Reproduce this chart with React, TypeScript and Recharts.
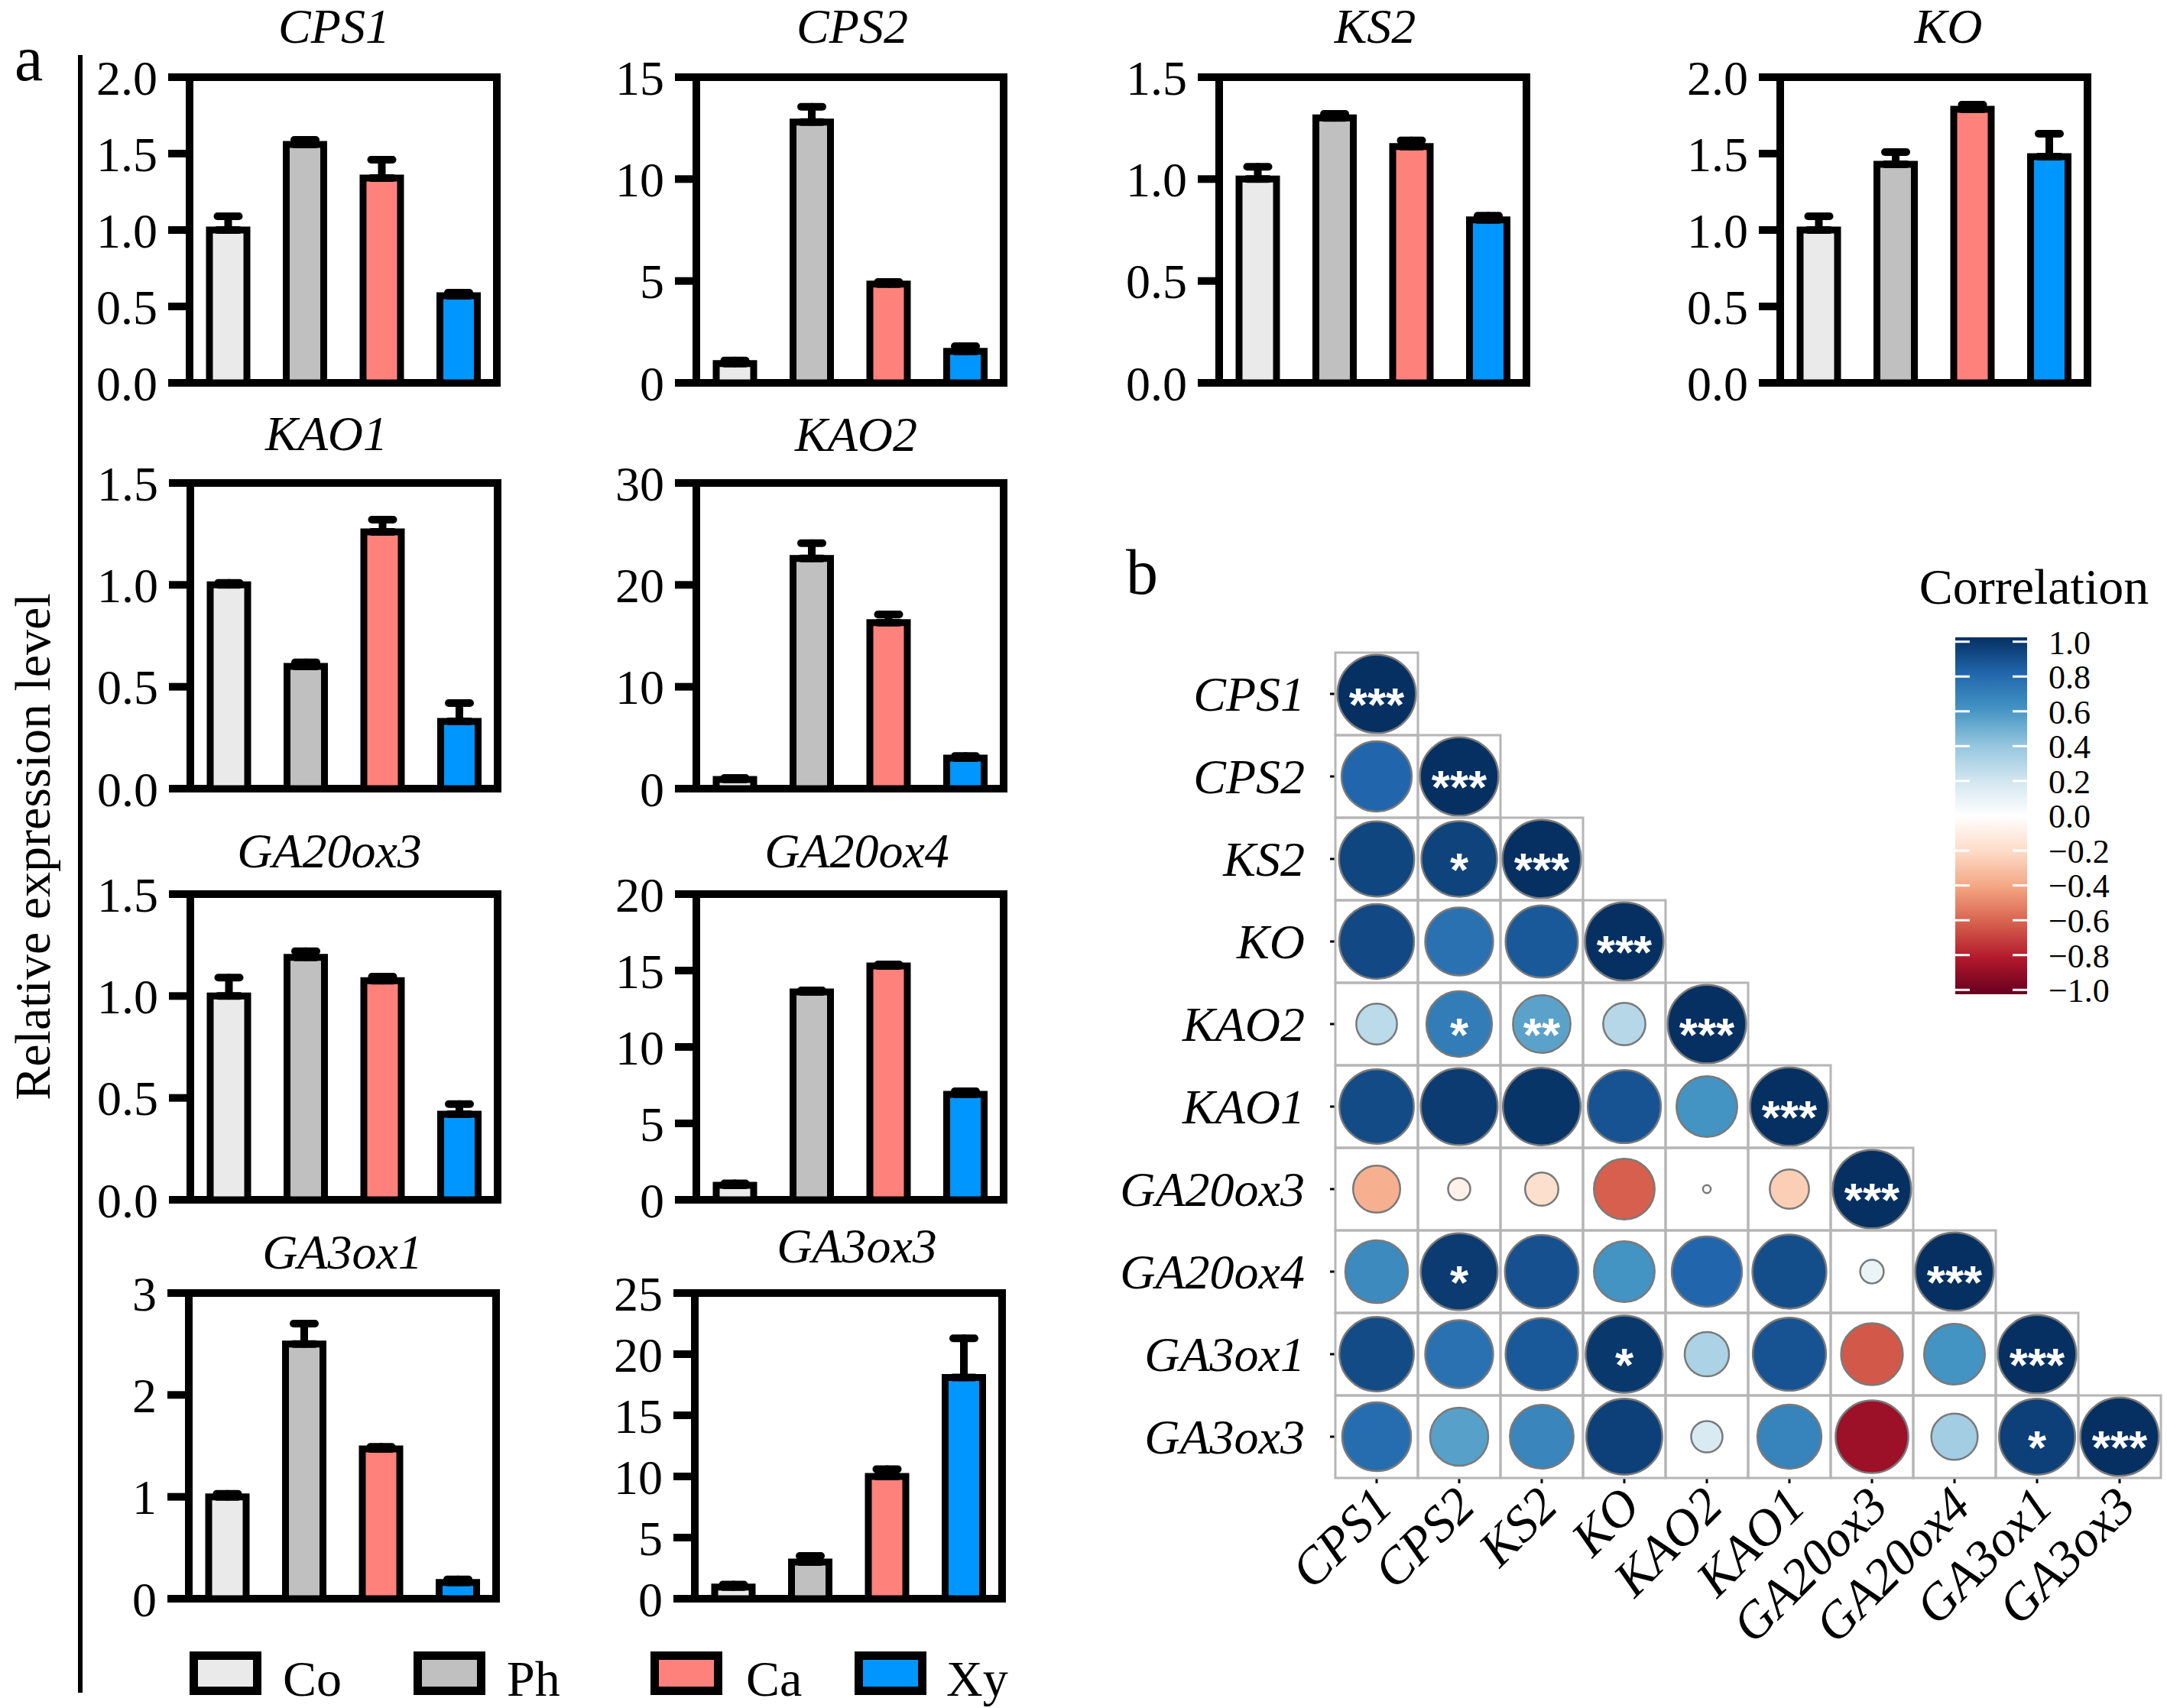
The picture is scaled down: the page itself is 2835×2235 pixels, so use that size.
import React from 'react';
import {
  BarChart, Bar, XAxis, YAxis, Cell, ErrorBar, ReferenceArea,
  ScatterChart, Scatter, ComposedChart, Line,
} from 'recharts';

const FONT = '"Liberation Serif", "Times New Roman", serif';

// ---------- panel a : data ----------
const sampleNames = ['Co', 'Ph', 'Ca', 'Xy'];
const sampleColors = ['#EAEAEA', '#C0C0C0', '#FF817C', '#0096FF'];

const cps1Mean = [1.0, 1.56, 1.34, 0.57];
const cps1Err = [0.09, 0.03, 0.12, 0.02];
const cps1Ticks = [0, 0.5, 1.0, 1.5, 2.0];

const cps2Mean = [0.95, 12.8, 4.85, 1.55];
const cps2Err = [0.15, 0.75, 0.1, 0.25];
const cps2Ticks = [0, 5, 10, 15];

const ks2Mean = [1.0, 1.3, 1.16, 0.8];
const ks2Err = [0.06, 0.02, 0.03, 0.02];
const ks2Ticks = [0, 0.5, 1.0, 1.5];

const koMean = [1.0, 1.43, 1.79, 1.48];
const koErr = [0.09, 0.08, 0.03, 0.15];
const koTicks = [0, 0.5, 1.0, 1.5, 2.0];

const kao1Mean = [1.0, 0.6, 1.26, 0.33];
const kao1Err = [0.01, 0.02, 0.06, 0.09];
const kao1Ticks = [0, 0.5, 1.0, 1.5];

const kao2Mean = [0.9, 22.6, 16.3, 3.0];
const kao2Err = [0.15, 1.5, 0.8, 0.2];
const kao2Ticks = [0, 10, 20, 30];

const ga20ox3Mean = [1.0, 1.19, 1.075, 0.42];
const ga20ox3Err = [0.09, 0.03, 0.02, 0.05];
const ga20ox3Ticks = [0, 0.5, 1.0, 1.5];

const ga20ox4Mean = [0.95, 13.6, 15.3, 6.9];
const ga20ox4Err = [0.12, 0.1, 0.1, 0.2];
const ga20ox4Ticks = [0, 5, 10, 15, 20];

const ga3ox1Mean = [1.0, 2.5, 1.47, 0.16];
const ga3ox1Err = [0.03, 0.2, 0.02, 0.03];
const ga3ox1Ticks = [0, 1, 2, 3];

const ga3ox3Mean = [0.95, 3.0, 10.0, 18.1];
const ga3ox3Err = [0.2, 0.5, 0.6, 3.2];
const ga3ox3Ticks = [0, 5, 10, 15, 20, 25];

const panels = [
  { gene: 'CPS1', mean: cps1Mean, err: cps1Err, ticks: cps1Ticks, digits: 1 },
  { gene: 'CPS2', mean: cps2Mean, err: cps2Err, ticks: cps2Ticks, digits: 0 },
  { gene: 'KS2', mean: ks2Mean, err: ks2Err, ticks: ks2Ticks, digits: 1 },
  { gene: 'KO', mean: koMean, err: koErr, ticks: koTicks, digits: 1 },
  { gene: 'KAO1', mean: kao1Mean, err: kao1Err, ticks: kao1Ticks, digits: 1 },
  { gene: 'KAO2', mean: kao2Mean, err: kao2Err, ticks: kao2Ticks, digits: 0 },
  { gene: 'GA20ox3', mean: ga20ox3Mean, err: ga20ox3Err, ticks: ga20ox3Ticks, digits: 1 },
  { gene: 'GA20ox4', mean: ga20ox4Mean, err: ga20ox4Err, ticks: ga20ox4Ticks, digits: 0 },
  { gene: 'GA3ox1', mean: ga3ox1Mean, err: ga3ox1Err, ticks: ga3ox1Ticks, digits: 0 },
  { gene: 'GA3ox3', mean: ga3ox3Mean, err: ga3ox3Err, ticks: ga3ox3Ticks, digits: 0 },
];

// layout of each small panel: plot-area top-left, title centre / baseline
const panelLayout = [
  { x: 248, y: 101, tx: 437, ty: 56 },
  { x: 911, y: 101, tx: 1115, ty: 56 },
  { x: 1595, y: 101, tx: 1799, ty: 56 },
  { x: 2329, y: 101, tx: 2549, ty: 56 },
  { x: 249, y: 632, tx: 427, ty: 589 },
  { x: 911, y: 632, tx: 1120, ty: 590 },
  { x: 249, y: 1170, tx: 431, ty: 1135 },
  { x: 911, y: 1170, tx: 1121, ty: 1135 },
  { x: 247, y: 1692, tx: 448, ty: 1660 },
  { x: 909, y: 1692, tx: 1121, ty: 1652 },
];

// ---------- panel b : data ----------
const corrGenes = ['CPS1', 'CPS2', 'KS2', 'KO', 'KAO2', 'KAO1', 'GA20ox3', 'GA20ox4', 'GA3ox1', 'GA3ox3'];
const corrLower = [
  [1],
  [0.8, 1],
  [0.92, 0.93, 1],
  [0.91, 0.75, 0.85, 1],
  [0.27, 0.7, 0.54, 0.29, 1],
  [0.9, 0.96, 0.98, 0.87, 0.6, 1],
  [-0.36, -0.08, -0.18, -0.6, -0.01, -0.25, 1],
  [0.64, 0.96, 0.88, 0.6, 0.8, 0.89, 0.09, 1],
  [0.9, 0.75, 0.85, 0.97, 0.32, 0.87, -0.62, 0.6, 1],
  [0.77, 0.55, 0.66, 0.94, 0.16, 0.67, -0.86, 0.35, 0.94, 1],
];
const corrSig = [
  ['***'],
  ['', '***'],
  ['', '*', '***'],
  ['', '', '', '***'],
  ['', '*', '**', '', '***'],
  ['', '', '', '', '', '***'],
  ['', '', '', '', '', '', '***'],
  ['', '*', '', '', '', '', '', '***'],
  ['', '', '', '*', '', '', '', '', '***'],
  ['', '', '', '', '', '', '', '', '*', '***'],
];
const corrIdx = [0, 1, 2, 3, 4, 5, 6, 7, 8, 9];
const cbTicks = [-1, -0.8, -0.6, -0.4, -0.2, 0, 0.2, 0.4, 0.6, 0.8, 1];
const RDBU = ['#67001F', '#B2182B', '#D6604D', '#F4A582', '#FDDBC7', '#FFFFFF', '#D1E5F0', '#92C5DE', '#4393C3', '#2166AC', '#053061'];

function hexToRgb(h: string) {
  return [parseInt(h.slice(1, 3), 16), parseInt(h.slice(3, 5), 16), parseInt(h.slice(5, 7), 16)];
}
function corrColor(r: number) {
  const t = Math.max(0, Math.min(10, (r + 1) * 5));
  const i = Math.min(9, Math.floor(t));
  const f = t - i;
  const a = hexToRgb(RDBU[i]);
  const b = hexToRgb(RDBU[i + 1]);
  const c = a.map((v, k) => Math.round(v + (b[k] - v) * f));
  return `rgb(${c[0]},${c[1]},${c[2]})`;
}

// ---------- geometry ----------
const PW = 402;
const PH = 400;
const LM = 170;
const TM = 45;
const RM = 20;
const BM = 45;

function BarPanel({ p, lay }: any) {
  const data = sampleNames.map((s, i) => ({ name: s, value: p.mean[i], err: [0, p.err[i]] }));
  const max = p.ticks[p.ticks.length - 1];
  return (
    <div style={{ position: 'absolute', left: lay.x - LM, top: lay.y - TM }}>
      <BarChart
        width={PW + LM + RM}
        height={PH + TM + BM}
        data={data}
        margin={{ top: TM, right: RM, bottom: BM, left: 0 }}
      >
        <XAxis dataKey="name" hide />
        <YAxis
          type="number"
          width={LM}
          domain={[0, max]}
          ticks={p.ticks}
          interval={0}
          allowDataOverflow
          axisLine={false}
          tickSize={28}
          tickMargin={14}
          tickLine={{ stroke: '#000', strokeWidth: 10 }}
          tick={{ fill: '#000', fontSize: 64, fontFamily: FONT }}
          tickFormatter={(v: number) => v.toFixed(p.digits)}
        />
        <ReferenceArea y1={0} y2={max} fill="none" stroke="#000" strokeWidth={10} ifOverflow="visible" />
        <Bar dataKey="value" barSize={49} stroke="#000" strokeWidth={9} isAnimationActive={false}>
          {data.map((d, i) => (
            <Cell key={d.name} fill={sampleColors[i]} />
          ))}
          <ErrorBar
            dataKey="err"
            direction="y"
            width={14}
            stroke="#000"
            strokeWidth={10}
            strokeLinecap="round"
            isAnimationActive={false}
          />
        </Bar>
      </BarChart>
    </div>
  );
}

// correlation chart geometry
const CL = 1380;
const CT = 820;
const CW = 1455;
const CH = 1415;
const CELL = 108;
const CORR_LEFT = 367;
const CORR_TOP = 34;
const CORR_XH = CH - CORR_TOP - CELL * 10;
const CORR_RIGHT = CW - CORR_LEFT - CELL * 10;

const corrCells: any[] = [];
corrLower.forEach((row, i) => {
  row.forEach((r, j) => {
    corrCells.push({ x: j, y: i, r, sig: corrSig[i][j] });
  });
});

function CorrShape(props: any) {
  const { cx, cy, payload } = props;
  const rad = 0.475 * CELL * Math.sqrt(Math.abs(payload.r));
  return (
    <g>
      <rect x={cx - CELL / 2} y={cy - CELL / 2} width={CELL} height={CELL} fill="none" stroke="#b5b5b5" strokeWidth={3} />
      <circle cx={cx} cy={cy} r={Math.max(rad, 2.5)} fill={corrColor(payload.r)} stroke="#7a7a7a" strokeWidth={2.5} />
      {payload.sig ? (
        <text
          x={cx}
          y={cy + 35}
          textAnchor="middle"
          fill="#fff"
          fontSize={62}
          fontWeight="bold"
          fontFamily='"Liberation Sans", Arial, sans-serif'
        >
          {payload.sig}
        </text>
      ) : null}
    </g>
  );
}

function RowTick(props: any) {
  const { x, y, payload } = props;
  return (
    <text x={x} y={y} textAnchor="end" dominantBaseline="central" fontSize={64} fontStyle="italic" fontFamily={FONT} fill="#000">
      {corrGenes[payload.value]}
    </text>
  );
}

function ColTick(props: any) {
  const { x, y, payload } = props;
  const ax = x + 24;
  const ay = y;
  return (
    <text
      x={ax}
      y={ay}
      transform={`rotate(-45, ${ax}, ${ay})`}
      textAnchor="end"
      fontSize={67}
      fontStyle="italic"
      fontFamily={FONT}
      fill="#000"
    >
      {corrGenes[payload.value]}
    </text>
  );
}

// colour bar geometry
const BL = 2540;
const BT = 790;
const BW = 295;
const BH = 560;
const B_LEFT = 18;
const B_W = 94;
const B_TOP = 44;
const B_H = 467;
const B_LABEL_X = 140;

function CbTick(props: any) {
  const { y, payload } = props;
  const v = payload.value;
  const label = v === 0 ? '0.0' : v < 0 ? '\u2212' + Math.abs(v).toFixed(1) : v.toFixed(1);
  return (
    <g>
      <line x1={B_LEFT} x2={B_LEFT + 19} y1={y} y2={y} stroke="#fff" strokeWidth={3} />
      <line x1={B_LEFT + B_W - 19} x2={B_LEFT + B_W} y1={y} y2={y} stroke="#fff" strokeWidth={3} />
      <text x={B_LABEL_X} y={y} dy="0.36em" textAnchor="start" fontSize={44} fontFamily={FONT} fill="#000">
        {label}
      </text>
    </g>
  );
}

const legendLayout = [
  { bx: 248, tx: 370 },
  { bx: 541, tx: 663 },
  { bx: 851, tx: 976 },
  { bx: 1118, tx: 1238 },
];

export default function App() {
  return (
    <div style={{ position: 'relative', width: 2835, height: 2235, background: '#fff', overflow: 'hidden' }}>
      <style>{'body{margin:0;background:#fff}'}</style>

      {panels.map((p, i) => (
        <BarPanel key={p.gene} p={p} lay={panelLayout[i]} />
      ))}

      <div style={{ position: 'absolute', left: CL, top: CT }}>
        <ScatterChart width={CW} height={CH} margin={{ top: CORR_TOP, right: CORR_RIGHT, bottom: 0, left: 0 }}>
          <XAxis
            type="number"
            dataKey="x"
            domain={[-0.5, 9.5]}
            ticks={corrIdx}
            interval={0}
            height={CORR_XH}
            axisLine={false}
            tickSize={7}
            tickMargin={33}
            tickLine={{ stroke: '#000', strokeWidth: 3 }}
            tick={<ColTick />}
          />
          <YAxis
            type="number"
            dataKey="y"
            domain={[-0.5, 9.5]}
            reversed
            ticks={corrIdx}
            interval={0}
            width={CORR_LEFT}
            axisLine={false}
            tickSize={7}
            tickMargin={33}
            tickLine={{ stroke: '#000', strokeWidth: 3 }}
            tick={<RowTick />}
          />
          <Scatter data={corrCells} shape={(props: any) => <CorrShape {...props} />} isAnimationActive={false} />
        </ScatterChart>
      </div>

      <div style={{ position: 'absolute', left: BL, top: BT }}>
        <ComposedChart
          width={BW}
          height={BH}
          data={[{ k: 0, v: 0 }]}
          margin={{ top: B_TOP, right: 0, bottom: BH - B_TOP - B_H, left: B_LEFT }}
        >
          <defs>
            <linearGradient id="rdbuGrad" x1="0" y1="0" x2="0" y2="1">
              {RDBU.slice().reverse().map((c, i) => (
                <stop key={i} offset={`${(i / 10) * 100}%`} stopColor={c} />
              ))}
            </linearGradient>
          </defs>
          <XAxis dataKey="k" hide />
          <YAxis
            orientation="right"
            type="number"
            width={BW - B_LEFT - B_W}
            domain={[-1.025, 1.025]}
            ticks={cbTicks}
            interval={0}
            allowDataOverflow
            axisLine={false}
            tickLine={false}
            tickSize={0}
            tick={<CbTick />}
          />
          <ReferenceArea y1={-1.025} y2={1.025} fill="url(#rdbuGrad)" fillOpacity={1} stroke="none" ifOverflow="visible" />
          <Line dataKey="v" stroke="none" dot={false} isAnimationActive={false} />
        </ComposedChart>
      </div>

      <svg
        width={2835}
        height={2235}
        style={{ position: 'absolute', left: 0, top: 0, pointerEvents: 'none' }}
        fontFamily={FONT}
      >
        <text x={19} y={105} fontSize={84} fill="#000">a</text>
        <line x1={105} y1={72} x2={105} y2={2215} stroke="#000" strokeWidth={6} />
        <text
          transform="translate(42,1108) rotate(-90)"
          textAnchor="middle"
          dominantBaseline="central"
          fontSize={66}
          fill="#000"
        >
          Relative expression level
        </text>
        {panels.map((p, i) => (
          <text
            key={p.gene}
            x={panelLayout[i].tx}
            y={panelLayout[i].ty}
            textAnchor="middle"
            fontSize={64}
            fontStyle="italic"
            fill="#000"
          >
            {p.gene}
          </text>
        ))}
        {sampleNames.map((s, i) => (
          <g key={s}>
            <rect
              x={legendLayout[i].bx + 5.5}
              y={2166.5}
              width={83}
              height={46}
              fill={sampleColors[i]}
              stroke="#000"
              strokeWidth={11}
            />
            <text x={legendLayout[i].tx} y={2219} fontSize={66} fill="#000">
              {s}
            </text>
          </g>
        ))}
        <text x={1473} y={777} fontSize={84} fill="#000">b</text>
        <text x={2661} y={790} textAnchor="middle" fontSize={66} fill="#000">Correlation</text>
      </svg>
    </div>
  );
}
